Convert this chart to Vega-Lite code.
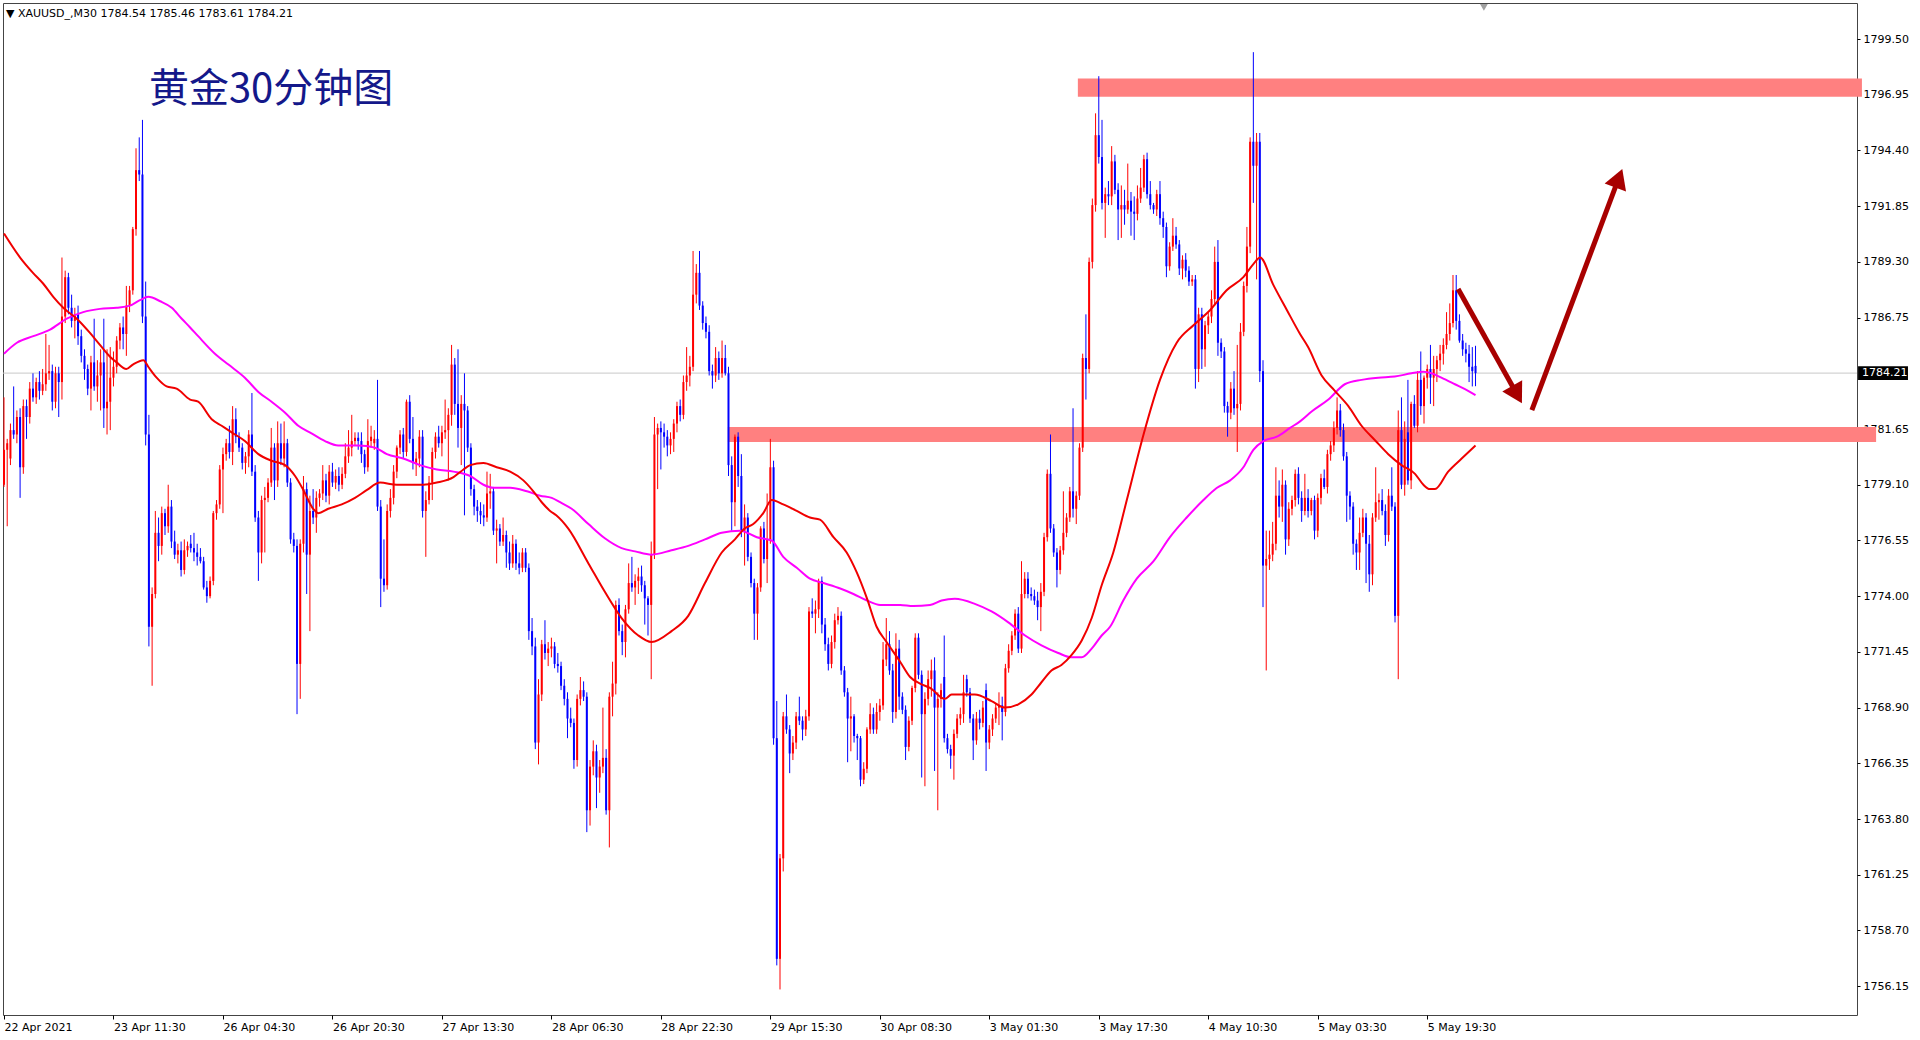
{
"$schema":"https://vega.github.io/schema/vega-lite/v6.json",
"width":1854,"height":1012,
"autosize":{"type":"none"},
"padding":{"left":3,"top":3,"right":63,"bottom":25},
"background":"#ffffff",
"config":{"view":{"stroke":"#444444","strokeWidth":1},"font":"DejaVu Sans",
 "axisX":{"labelAlign":"left","labelPadding":2,"tickSize":4,"tickColor":"#000000","domain":false,"grid":false,"labelFont":"DejaVu Sans","labelFontSize":11,"labelColor":"#000000","labelOverlap":false,"labelBound":false,"labelFlush":false},
 "axisY":{"tickSize":3,"tickColor":"#000000","domain":false,"grid":false,"labelFont":"DejaVu Sans","labelFontSize":11,"labelColor":"#000000","labelPadding":3,"labelOverlap":false,"labelBound":false,"labelFlush":false}},
"datasets":{
"bands":[{"a":333.5,"b":577,"t":1797.7,"u":1796.86},{"a":224.8,"b":581.4,"t":1781.74,"u":1781.06}],
"arrows":[{"x1":451.6,"y1":1788.06,"x2":469.0,"y2":1783.47},{"x1":474.5,"y1":1782.52,"x2":500.8,"y2":1792.87}],
"k":[
{"i":0,"o":1779.1,"h":1783.1,"l":1779.0,"c":1780.7},
{"i":1,"o":1780.7,"h":1781.2,"l":1777.2,"c":1781.0},
{"i":2,"o":1780.3,"h":1781.9,"l":1780.0,"c":1781.6},
{"i":3,"o":1781.6,"h":1783.6,"l":1781.2,"c":1781.4},
{"i":4,"o":1781.4,"h":1782.5,"l":1781.0,"c":1782.2},
{"i":5,"o":1782.2,"h":1782.6,"l":1778.5,"c":1779.9},
{"i":6,"o":1779.9,"h":1783.0,"l":1779.6,"c":1782.7},
{"i":7,"o":1782.7,"h":1783.0,"l":1781.2,"c":1782.2},
{"i":8,"o":1782.2,"h":1783.8,"l":1781.9,"c":1783.5},
{"i":9,"o":1783.5,"h":1784.2,"l":1782.9,"c":1783.1},
{"i":10,"o":1783.1,"h":1784.0,"l":1782.8,"c":1783.8},
{"i":11,"o":1783.8,"h":1784.3,"l":1783.0,"c":1783.4},
{"i":12,"o":1783.4,"h":1784.4,"l":1783.2,"c":1783.7},
{"i":13,"o":1783.7,"h":1786.0,"l":1783.4,"c":1784.2},
{"i":14,"o":1784.2,"h":1785.5,"l":1783.9,"c":1784.3},
{"i":15,"o":1784.3,"h":1784.6,"l":1782.5,"c":1782.9},
{"i":16,"o":1782.9,"h":1784.5,"l":1782.6,"c":1784.2},
{"i":17,"o":1784.2,"h":1784.5,"l":1782.2,"c":1783.8},
{"i":18,"o":1783.8,"h":1789.5,"l":1783.0,"c":1786.8},
{"i":19,"o":1786.8,"h":1788.9,"l":1786.5,"c":1788.6},
{"i":20,"o":1788.6,"h":1788.8,"l":1786.9,"c":1787.2},
{"i":21,"o":1787.2,"h":1787.8,"l":1786.3,"c":1786.6},
{"i":22,"o":1786.6,"h":1787.2,"l":1785.8,"c":1786.9},
{"i":23,"o":1786.9,"h":1787.3,"l":1785.5,"c":1785.9},
{"i":24,"o":1785.9,"h":1786.2,"l":1784.7,"c":1785.0},
{"i":25,"o":1785.0,"h":1785.3,"l":1783.9,"c":1784.4},
{"i":26,"o":1784.4,"h":1784.6,"l":1783.2,"c":1783.5},
{"i":27,"o":1783.5,"h":1785.0,"l":1782.5,"c":1784.7},
{"i":28,"o":1784.7,"h":1786.7,"l":1783.4,"c":1783.6},
{"i":29,"o":1783.6,"h":1784.8,"l":1782.9,"c":1784.1},
{"i":30,"o":1784.1,"h":1785.3,"l":1782.5,"c":1784.7},
{"i":31,"o":1784.7,"h":1786.7,"l":1781.7,"c":1782.6},
{"i":32,"o":1782.6,"h":1785.3,"l":1781.4,"c":1782.9},
{"i":33,"o":1782.9,"h":1785.4,"l":1781.6,"c":1784.0},
{"i":34,"o":1784.0,"h":1785.2,"l":1783.6,"c":1784.5},
{"i":35,"o":1784.5,"h":1785.9,"l":1784.2,"c":1785.7},
{"i":36,"o":1785.7,"h":1786.5,"l":1785.3,"c":1786.3},
{"i":37,"o":1786.3,"h":1786.8,"l":1785.3,"c":1786.0},
{"i":38,"o":1786.0,"h":1788.2,"l":1785.0,"c":1787.3},
{"i":39,"o":1787.3,"h":1788.2,"l":1787.0,"c":1788.0},
{"i":40,"o":1788.0,"h":1790.9,"l":1787.8,"c":1790.8},
{"i":41,"o":1790.8,"h":1794.5,"l":1790.5,"c":1793.5},
{"i":42,"o":1793.5,"h":1795.0,"l":1793.0,"c":1793.3},
{"i":43,"o":1793.3,"h":1795.8,"l":1786.5,"c":1786.8},
{"i":44,"o":1786.8,"h":1788.4,"l":1780.9,"c":1781.4},
{"i":45,"o":1781.4,"h":1782.3,"l":1771.7,"c":1772.6},
{"i":46,"o":1772.6,"h":1774.4,"l":1769.9,"c":1774.1},
{"i":47,"o":1774.1,"h":1777.9,"l":1773.9,"c":1776.9},
{"i":48,"o":1776.9,"h":1777.6,"l":1775.6,"c":1776.3},
{"i":49,"o":1776.3,"h":1778.1,"l":1775.9,"c":1777.8},
{"i":50,"o":1777.8,"h":1778.0,"l":1776.8,"c":1777.2},
{"i":51,"o":1777.2,"h":1779.1,"l":1776.9,"c":1778.1},
{"i":52,"o":1778.1,"h":1778.4,"l":1776.2,"c":1776.5},
{"i":53,"o":1776.5,"h":1777.0,"l":1775.7,"c":1775.9},
{"i":54,"o":1775.9,"h":1776.4,"l":1775.5,"c":1776.1},
{"i":55,"o":1776.1,"h":1776.5,"l":1774.9,"c":1775.2},
{"i":56,"o":1775.2,"h":1776.6,"l":1775.0,"c":1776.1},
{"i":57,"o":1776.1,"h":1776.5,"l":1775.8,"c":1776.3},
{"i":58,"o":1776.4,"h":1776.8,"l":1776.0,"c":1776.2},
{"i":59,"o":1776.2,"h":1776.9,"l":1775.6,"c":1776.0},
{"i":60,"o":1776.0,"h":1776.4,"l":1775.4,"c":1775.8},
{"i":61,"o":1775.8,"h":1776.2,"l":1775.5,"c":1775.6},
{"i":62,"o":1775.6,"h":1775.8,"l":1774.3,"c":1774.4},
{"i":63,"o":1774.4,"h":1774.7,"l":1773.7,"c":1774.0},
{"i":64,"o":1774.0,"h":1774.9,"l":1773.9,"c":1774.7},
{"i":65,"o":1774.7,"h":1777.9,"l":1774.5,"c":1777.8},
{"i":66,"o":1777.8,"h":1778.4,"l":1777.5,"c":1778.2},
{"i":67,"o":1778.2,"h":1780.0,"l":1778.0,"c":1779.8},
{"i":68,"o":1779.8,"h":1780.8,"l":1777.8,"c":1780.5},
{"i":69,"o":1780.5,"h":1781.2,"l":1780.2,"c":1781.0},
{"i":70,"o":1781.0,"h":1781.8,"l":1780.3,"c":1780.6},
{"i":71,"o":1780.6,"h":1782.7,"l":1780.0,"c":1782.1},
{"i":72,"o":1782.1,"h":1782.6,"l":1781.0,"c":1781.3},
{"i":73,"o":1781.3,"h":1781.5,"l":1780.6,"c":1780.8},
{"i":74,"o":1780.8,"h":1781.0,"l":1779.8,"c":1780.1},
{"i":75,"o":1780.1,"h":1780.6,"l":1779.6,"c":1780.4},
{"i":76,"o":1780.4,"h":1781.6,"l":1779.9,"c":1781.4},
{"i":77,"o":1781.4,"h":1783.3,"l":1779.5,"c":1779.7},
{"i":78,"o":1779.7,"h":1780.0,"l":1777.4,"c":1777.6},
{"i":79,"o":1777.6,"h":1777.9,"l":1774.7,"c":1776.0},
{"i":80,"o":1776.0,"h":1778.6,"l":1775.5,"c":1778.4},
{"i":81,"o":1778.4,"h":1779.0,"l":1776.0,"c":1778.5},
{"i":82,"o":1778.5,"h":1779.4,"l":1778.3,"c":1779.2},
{"i":83,"o":1779.2,"h":1781.7,"l":1779.0,"c":1780.8},
{"i":84,"o":1780.8,"h":1781.0,"l":1778.4,"c":1779.3},
{"i":85,"o":1779.3,"h":1782.0,"l":1779.0,"c":1781.0},
{"i":86,"o":1781.0,"h":1781.9,"l":1780.0,"c":1780.3},
{"i":87,"o":1780.3,"h":1782.0,"l":1779.9,"c":1781.0},
{"i":88,"o":1781.0,"h":1781.2,"l":1779.0,"c":1779.2},
{"i":89,"o":1779.2,"h":1779.4,"l":1776.4,"c":1776.6},
{"i":90,"o":1776.6,"h":1776.9,"l":1776.0,"c":1776.3},
{"i":91,"o":1776.3,"h":1776.6,"l":1768.6,"c":1770.9},
{"i":92,"o":1770.9,"h":1776.6,"l":1769.3,"c":1776.4},
{"i":93,"o":1776.4,"h":1779.5,"l":1776.0,"c":1778.9},
{"i":94,"o":1778.9,"h":1779.2,"l":1774.1,"c":1775.9},
{"i":95,"o":1775.9,"h":1778.6,"l":1772.4,"c":1777.9},
{"i":96,"o":1777.9,"h":1778.9,"l":1777.3,"c":1777.6},
{"i":97,"o":1777.6,"h":1778.8,"l":1776.9,"c":1778.5},
{"i":98,"o":1778.5,"h":1778.9,"l":1778.1,"c":1778.7},
{"i":99,"o":1778.7,"h":1780.0,"l":1778.4,"c":1779.3},
{"i":100,"o":1779.3,"h":1779.6,"l":1778.3,"c":1778.6},
{"i":101,"o":1778.6,"h":1780.0,"l":1778.2,"c":1779.7},
{"i":102,"o":1779.7,"h":1780.1,"l":1779.0,"c":1779.2},
{"i":103,"o":1779.2,"h":1779.8,"l":1778.9,"c":1779.5},
{"i":104,"o":1779.5,"h":1779.9,"l":1778.8,"c":1779.1},
{"i":105,"o":1779.1,"h":1779.9,"l":1778.9,"c":1779.6},
{"i":106,"o":1779.6,"h":1781.0,"l":1779.4,"c":1780.4},
{"i":107,"o":1780.4,"h":1781.6,"l":1780.1,"c":1780.8},
{"i":108,"o":1780.8,"h":1782.3,"l":1780.4,"c":1781.1},
{"i":109,"o":1781.1,"h":1781.5,"l":1780.9,"c":1781.25},
{"i":110,"o":1781.25,"h":1781.5,"l":1780.7,"c":1781.1},
{"i":111,"o":1781.1,"h":1781.5,"l":1780.1,"c":1780.5},
{"i":112,"o":1780.5,"h":1780.7,"l":1779.6,"c":1779.9},
{"i":113,"o":1779.9,"h":1782.1,"l":1779.7,"c":1781.1},
{"i":114,"o":1781.1,"h":1781.8,"l":1780.8,"c":1781.3},
{"i":115,"o":1781.0,"h":1781.6,"l":1780.7,"c":1781.2},
{"i":116,"o":1781.2,"h":1783.9,"l":1777.9,"c":1778.1},
{"i":117,"o":1778.1,"h":1778.4,"l":1773.5,"c":1774.8},
{"i":118,"o":1774.8,"h":1776.6,"l":1774.2,"c":1774.5},
{"i":119,"o":1774.5,"h":1778.2,"l":1774.3,"c":1777.9},
{"i":120,"o":1777.9,"h":1778.9,"l":1777.6,"c":1778.5},
{"i":121,"o":1778.5,"h":1780.0,"l":1778.2,"c":1779.7},
{"i":122,"o":1779.7,"h":1780.9,"l":1779.4,"c":1780.8},
{"i":123,"o":1780.8,"h":1781.6,"l":1780.5,"c":1781.4},
{"i":124,"o":1781.4,"h":1781.7,"l":1780.3,"c":1780.6},
{"i":125,"o":1780.6,"h":1783.0,"l":1780.4,"c":1782.9},
{"i":126,"o":1782.9,"h":1783.2,"l":1781.0,"c":1781.2},
{"i":127,"o":1781.2,"h":1782.2,"l":1779.8,"c":1780.1},
{"i":128,"o":1780.1,"h":1780.6,"l":1779.5,"c":1780.3},
{"i":129,"o":1780.3,"h":1781.6,"l":1779.9,"c":1781.3},
{"i":130,"o":1781.3,"h":1781.6,"l":1777.6,"c":1777.9},
{"i":131,"o":1777.9,"h":1778.8,"l":1775.8,"c":1778.4},
{"i":132,"o":1778.4,"h":1779.5,"l":1778.2,"c":1779.2},
{"i":133,"o":1779.2,"h":1780.8,"l":1778.4,"c":1780.6},
{"i":134,"o":1780.6,"h":1781.5,"l":1780.3,"c":1781.3},
{"i":135,"o":1781.3,"h":1781.8,"l":1780.8,"c":1781.0},
{"i":136,"o":1781.0,"h":1781.8,"l":1780.4,"c":1781.5},
{"i":137,"o":1781.5,"h":1783.0,"l":1781.2,"c":1781.6},
{"i":138,"o":1781.6,"h":1782.6,"l":1779.3,"c":1782.3},
{"i":139,"o":1782.3,"h":1785.5,"l":1781.8,"c":1784.6},
{"i":140,"o":1784.6,"h":1784.9,"l":1782.3,"c":1782.8},
{"i":141,"o":1782.8,"h":1785.3,"l":1780.8,"c":1781.7},
{"i":142,"o":1781.7,"h":1783.2,"l":1780.0,"c":1782.8},
{"i":143,"o":1782.8,"h":1784.2,"l":1777.7,"c":1782.5},
{"i":144,"o":1782.5,"h":1782.7,"l":1780.6,"c":1780.8},
{"i":145,"o":1780.8,"h":1781.0,"l":1778.6,"c":1778.9},
{"i":146,"o":1778.9,"h":1779.1,"l":1777.7,"c":1778.1},
{"i":147,"o":1778.1,"h":1778.4,"l":1777.4,"c":1777.9},
{"i":148,"o":1777.9,"h":1778.3,"l":1777.3,"c":1777.7},
{"i":149,"o":1777.7,"h":1778.2,"l":1777.2,"c":1777.6},
{"i":150,"o":1777.6,"h":1779.7,"l":1777.4,"c":1778.7},
{"i":151,"o":1778.7,"h":1779.6,"l":1778.0,"c":1778.8},
{"i":152,"o":1778.8,"h":1779.0,"l":1776.8,"c":1777.0},
{"i":153,"o":1777.0,"h":1777.5,"l":1775.5,"c":1777.1},
{"i":154,"o":1777.1,"h":1777.3,"l":1776.3,"c":1776.5},
{"i":155,"o":1776.5,"h":1777.6,"l":1776.3,"c":1776.8},
{"i":156,"o":1776.8,"h":1777.0,"l":1775.3,"c":1776.0},
{"i":157,"o":1776.0,"h":1776.5,"l":1775.2,"c":1775.5},
{"i":158,"o":1775.5,"h":1776.8,"l":1775.3,"c":1776.4},
{"i":159,"o":1776.4,"h":1776.6,"l":1775.2,"c":1775.5},
{"i":160,"o":1775.5,"h":1776.0,"l":1775.0,"c":1775.3},
{"i":161,"o":1775.3,"h":1776.2,"l":1775.1,"c":1776.0},
{"i":162,"o":1776.0,"h":1776.2,"l":1775.1,"c":1775.3},
{"i":163,"o":1775.3,"h":1775.5,"l":1772.0,"c":1772.4},
{"i":164,"o":1772.4,"h":1773.0,"l":1771.3,"c":1771.7},
{"i":165,"o":1771.7,"h":1772.1,"l":1767.0,"c":1767.3},
{"i":166,"o":1767.3,"h":1770.2,"l":1766.3,"c":1769.5},
{"i":167,"o":1769.5,"h":1772.0,"l":1769.2,"c":1771.8},
{"i":168,"o":1771.8,"h":1772.9,"l":1771.1,"c":1771.4},
{"i":169,"o":1771.4,"h":1771.9,"l":1770.8,"c":1771.6},
{"i":170,"o":1771.6,"h":1772.1,"l":1771.2,"c":1771.7},
{"i":171,"o":1771.7,"h":1771.9,"l":1770.7,"c":1770.9},
{"i":172,"o":1770.9,"h":1771.4,"l":1770.5,"c":1770.8},
{"i":173,"o":1770.8,"h":1771.0,"l":1769.7,"c":1769.9},
{"i":174,"o":1769.9,"h":1770.2,"l":1769.0,"c":1769.3},
{"i":175,"o":1769.3,"h":1769.6,"l":1767.5,"c":1768.4},
{"i":176,"o":1768.4,"h":1768.9,"l":1768.0,"c":1768.2},
{"i":177,"o":1768.2,"h":1768.4,"l":1766.1,"c":1766.5},
{"i":178,"o":1766.5,"h":1769.5,"l":1766.2,"c":1769.3},
{"i":179,"o":1769.3,"h":1770.3,"l":1769.0,"c":1769.7},
{"i":180,"o":1769.7,"h":1770.1,"l":1769.2,"c":1769.4},
{"i":181,"o":1769.4,"h":1769.6,"l":1763.2,"c":1764.2},
{"i":182,"o":1764.2,"h":1766.5,"l":1763.5,"c":1766.2},
{"i":183,"o":1766.2,"h":1767.4,"l":1765.8,"c":1766.9},
{"i":184,"o":1766.9,"h":1767.2,"l":1764.3,"c":1765.7},
{"i":185,"o":1765.7,"h":1766.5,"l":1765.0,"c":1766.2},
{"i":186,"o":1766.2,"h":1768.9,"l":1765.9,"c":1766.6},
{"i":187,"o":1766.6,"h":1767.0,"l":1764.0,"c":1764.2},
{"i":188,"o":1764.2,"h":1769.6,"l":1762.5,"c":1769.4},
{"i":189,"o":1769.4,"h":1771.0,"l":1768.5,"c":1770.0},
{"i":190,"o":1770.0,"h":1773.8,"l":1769.5,"c":1773.6},
{"i":191,"o":1773.6,"h":1773.9,"l":1772.2,"c":1772.4},
{"i":192,"o":1772.4,"h":1772.7,"l":1771.3,"c":1771.9},
{"i":193,"o":1771.9,"h":1773.6,"l":1771.2,"c":1773.4},
{"i":194,"o":1773.4,"h":1775.5,"l":1773.2,"c":1774.6},
{"i":195,"o":1774.6,"h":1775.8,"l":1774.2,"c":1774.4},
{"i":196,"o":1774.4,"h":1775.0,"l":1773.6,"c":1774.7},
{"i":197,"o":1774.7,"h":1775.3,"l":1774.1,"c":1774.9},
{"i":198,"o":1774.9,"h":1775.4,"l":1774.2,"c":1774.5},
{"i":199,"o":1774.5,"h":1774.7,"l":1772.7,"c":1773.9},
{"i":200,"o":1773.9,"h":1774.0,"l":1772.2,"c":1773.6},
{"i":201,"o":1773.6,"h":1776.5,"l":1770.2,"c":1775.9},
{"i":202,"o":1775.9,"h":1782.2,"l":1775.7,"c":1781.4},
{"i":203,"o":1781.4,"h":1781.9,"l":1778.9,"c":1781.7},
{"i":204,"o":1781.7,"h":1782.0,"l":1779.8,"c":1781.5},
{"i":205,"o":1781.5,"h":1781.9,"l":1780.8,"c":1781.3},
{"i":206,"o":1781.3,"h":1781.6,"l":1780.4,"c":1780.9},
{"i":207,"o":1780.9,"h":1781.5,"l":1780.5,"c":1781.2},
{"i":208,"o":1781.2,"h":1782.1,"l":1780.6,"c":1781.9},
{"i":209,"o":1781.9,"h":1782.9,"l":1781.5,"c":1782.7},
{"i":210,"o":1782.7,"h":1783.0,"l":1782.0,"c":1782.3},
{"i":211,"o":1782.3,"h":1784.1,"l":1782.1,"c":1783.8},
{"i":212,"o":1783.8,"h":1785.4,"l":1783.4,"c":1784.1},
{"i":213,"o":1784.1,"h":1785.0,"l":1783.6,"c":1784.5},
{"i":214,"o":1784.5,"h":1789.8,"l":1784.3,"c":1787.8},
{"i":215,"o":1787.8,"h":1789.2,"l":1787.4,"c":1788.8},
{"i":216,"o":1788.8,"h":1789.8,"l":1787.1,"c":1787.3},
{"i":217,"o":1787.3,"h":1787.5,"l":1786.2,"c":1786.5},
{"i":218,"o":1786.5,"h":1786.8,"l":1785.8,"c":1786.1},
{"i":219,"o":1786.1,"h":1786.4,"l":1784.1,"c":1784.3},
{"i":220,"o":1784.3,"h":1784.6,"l":1783.5,"c":1784.1},
{"i":221,"o":1784.1,"h":1785.4,"l":1783.8,"c":1784.9},
{"i":222,"o":1784.9,"h":1785.2,"l":1783.9,"c":1784.2},
{"i":223,"o":1784.2,"h":1785.7,"l":1784.0,"c":1784.9},
{"i":224,"o":1784.9,"h":1785.5,"l":1784.1,"c":1784.2},
{"i":225,"o":1784.2,"h":1784.5,"l":1779.5,"c":1780.0},
{"i":226,"o":1780.0,"h":1780.4,"l":1777.0,"c":1778.3},
{"i":227,"o":1778.3,"h":1781.4,"l":1777.2,"c":1781.3},
{"i":228,"o":1781.3,"h":1781.5,"l":1779.0,"c":1779.5},
{"i":229,"o":1779.5,"h":1780.5,"l":1776.7,"c":1777.0},
{"i":230,"o":1777.0,"h":1778.2,"l":1775.4,"c":1777.6},
{"i":231,"o":1777.6,"h":1777.8,"l":1775.6,"c":1775.8},
{"i":232,"o":1775.8,"h":1776.0,"l":1774.4,"c":1774.6},
{"i":233,"o":1774.6,"h":1774.8,"l":1772.0,"c":1773.2},
{"i":234,"o":1773.2,"h":1774.6,"l":1772.0,"c":1774.4},
{"i":235,"o":1774.4,"h":1777.2,"l":1774.2,"c":1777.1},
{"i":236,"o":1777.1,"h":1777.4,"l":1775.5,"c":1775.7},
{"i":237,"o":1775.7,"h":1778.7,"l":1774.6,"c":1776.6},
{"i":238,"o":1776.6,"h":1781.2,"l":1776.4,"c":1779.9},
{"i":239,"o":1779.9,"h":1780.2,"l":1767.2,"c":1767.5},
{"i":240,"o":1767.5,"h":1769.2,"l":1757.1,"c":1757.4},
{"i":241,"o":1757.4,"h":1762.2,"l":1756.0,"c":1762.0},
{"i":242,"o":1762.0,"h":1768.7,"l":1761.4,"c":1768.5},
{"i":243,"o":1768.5,"h":1769.5,"l":1767.7,"c":1767.9},
{"i":244,"o":1767.9,"h":1768.1,"l":1765.9,"c":1766.8},
{"i":245,"o":1766.8,"h":1767.6,"l":1766.5,"c":1767.3},
{"i":246,"o":1767.3,"h":1768.7,"l":1767.0,"c":1768.5},
{"i":247,"o":1768.5,"h":1769.4,"l":1768.1,"c":1768.3},
{"i":248,"o":1768.3,"h":1768.5,"l":1767.4,"c":1767.9},
{"i":249,"o":1767.9,"h":1768.8,"l":1767.6,"c":1768.5},
{"i":250,"o":1768.5,"h":1773.5,"l":1768.3,"c":1773.3},
{"i":251,"o":1773.3,"h":1773.9,"l":1773.0,"c":1773.2},
{"i":252,"o":1773.2,"h":1773.8,"l":1772.3,"c":1773.4},
{"i":253,"o":1773.4,"h":1774.8,"l":1773.0,"c":1774.7},
{"i":254,"o":1774.7,"h":1774.9,"l":1772.3,"c":1772.7},
{"i":255,"o":1772.7,"h":1773.0,"l":1771.5,"c":1771.8},
{"i":256,"o":1771.8,"h":1772.1,"l":1770.6,"c":1770.9},
{"i":257,"o":1770.9,"h":1772.2,"l":1770.7,"c":1771.9},
{"i":258,"o":1771.9,"h":1773.2,"l":1771.6,"c":1772.9},
{"i":259,"o":1772.9,"h":1773.5,"l":1772.7,"c":1773.1},
{"i":260,"o":1773.1,"h":1773.3,"l":1770.4,"c":1770.6},
{"i":261,"o":1770.6,"h":1770.8,"l":1769.4,"c":1769.6},
{"i":262,"o":1769.6,"h":1769.8,"l":1766.4,"c":1768.4},
{"i":263,"o":1768.4,"h":1769.4,"l":1766.9,"c":1768.5},
{"i":264,"o":1768.5,"h":1768.6,"l":1767.3,"c":1767.6},
{"i":265,"o":1767.6,"h":1767.7,"l":1766.5,"c":1767.5},
{"i":266,"o":1767.5,"h":1767.6,"l":1765.3,"c":1765.6},
{"i":267,"o":1765.6,"h":1766.4,"l":1765.4,"c":1766.1},
{"i":268,"o":1766.1,"h":1768.0,"l":1765.9,"c":1767.9},
{"i":269,"o":1767.9,"h":1769.1,"l":1767.7,"c":1768.6},
{"i":270,"o":1768.6,"h":1768.9,"l":1767.7,"c":1767.9},
{"i":271,"o":1767.9,"h":1769.1,"l":1767.7,"c":1768.7},
{"i":272,"o":1768.7,"h":1769.3,"l":1768.3,"c":1769.0},
{"i":273,"o":1769.0,"h":1771.9,"l":1768.8,"c":1771.1},
{"i":274,"o":1771.1,"h":1773.0,"l":1770.8,"c":1771.8},
{"i":275,"o":1771.8,"h":1772.4,"l":1770.4,"c":1770.6},
{"i":276,"o":1770.6,"h":1770.9,"l":1768.2,"c":1768.7},
{"i":277,"o":1768.7,"h":1772.3,"l":1768.4,"c":1771.6},
{"i":278,"o":1771.6,"h":1772.0,"l":1768.8,"c":1769.4},
{"i":279,"o":1769.4,"h":1769.6,"l":1768.6,"c":1768.8},
{"i":280,"o":1768.8,"h":1769.0,"l":1766.5,"c":1767.1},
{"i":281,"o":1767.1,"h":1768.5,"l":1766.9,"c":1768.3},
{"i":282,"o":1768.3,"h":1769.9,"l":1768.1,"c":1769.8},
{"i":283,"o":1769.8,"h":1772.3,"l":1769.6,"c":1772.1},
{"i":284,"o":1772.1,"h":1772.3,"l":1770.2,"c":1770.4},
{"i":285,"o":1770.4,"h":1770.6,"l":1765.7,"c":1768.6},
{"i":286,"o":1768.6,"h":1769.6,"l":1765.3,"c":1769.3},
{"i":287,"o":1769.3,"h":1770.6,"l":1769.0,"c":1770.2},
{"i":288,"o":1770.2,"h":1771.1,"l":1769.4,"c":1770.6},
{"i":289,"o":1770.6,"h":1771.2,"l":1766.0,"c":1768.9},
{"i":290,"o":1768.9,"h":1769.6,"l":1764.2,"c":1769.3},
{"i":291,"o":1769.3,"h":1770.0,"l":1768.9,"c":1769.7},
{"i":292,"o":1770.3,"h":1772.2,"l":1767.3,"c":1767.5},
{"i":293,"o":1767.5,"h":1767.7,"l":1766.8,"c":1767.0},
{"i":294,"o":1767.0,"h":1767.2,"l":1766.1,"c":1766.7},
{"i":295,"o":1766.7,"h":1767.9,"l":1765.6,"c":1767.7},
{"i":296,"o":1767.7,"h":1768.6,"l":1767.5,"c":1768.4},
{"i":297,"o":1768.4,"h":1768.9,"l":1768.1,"c":1768.6},
{"i":298,"o":1768.6,"h":1770.4,"l":1768.2,"c":1769.6},
{"i":299,"o":1770.2,"h":1770.4,"l":1769.4,"c":1769.6},
{"i":300,"o":1769.6,"h":1769.8,"l":1768.2,"c":1768.4},
{"i":301,"o":1768.4,"h":1768.6,"l":1766.5,"c":1767.4},
{"i":302,"o":1767.4,"h":1768.7,"l":1767.2,"c":1768.4},
{"i":303,"o":1768.4,"h":1768.8,"l":1767.9,"c":1768.2},
{"i":304,"o":1768.2,"h":1769.2,"l":1768.0,"c":1768.9},
{"i":305,"o":1769.7,"h":1770.0,"l":1766.0,"c":1767.3},
{"i":306,"o":1767.3,"h":1768.1,"l":1767.0,"c":1767.9},
{"i":307,"o":1767.9,"h":1768.6,"l":1767.6,"c":1768.4},
{"i":308,"o":1768.4,"h":1769.1,"l":1768.2,"c":1768.9},
{"i":309,"o":1768.9,"h":1769.6,"l":1768.1,"c":1769.0},
{"i":310,"o":1769.0,"h":1769.4,"l":1767.4,"c":1768.7},
{"i":311,"o":1768.7,"h":1770.9,"l":1768.5,"c":1770.7},
{"i":312,"o":1770.7,"h":1771.8,"l":1770.5,"c":1771.5},
{"i":313,"o":1771.5,"h":1772.4,"l":1771.3,"c":1772.2},
{"i":314,"o":1772.2,"h":1773.4,"l":1772.0,"c":1773.2},
{"i":315,"o":1773.2,"h":1773.5,"l":1771.4,"c":1771.6},
{"i":316,"o":1771.6,"h":1775.6,"l":1771.4,"c":1774.1},
{"i":317,"o":1774.1,"h":1775.1,"l":1773.9,"c":1774.8},
{"i":318,"o":1774.8,"h":1775.1,"l":1773.9,"c":1774.1},
{"i":319,"o":1774.1,"h":1774.4,"l":1773.8,"c":1774.0},
{"i":320,"o":1774.0,"h":1774.3,"l":1773.6,"c":1773.8},
{"i":321,"o":1773.8,"h":1774.2,"l":1772.9,"c":1773.5},
{"i":322,"o":1773.5,"h":1774.6,"l":1772.4,"c":1774.2},
{"i":323,"o":1774.2,"h":1776.9,"l":1774.0,"c":1776.7},
{"i":324,"o":1776.7,"h":1779.8,"l":1776.5,"c":1779.6},
{"i":325,"o":1779.6,"h":1781.4,"l":1776.9,"c":1777.1},
{"i":326,"o":1777.1,"h":1777.3,"l":1775.8,"c":1776.0},
{"i":327,"o":1776.0,"h":1776.2,"l":1774.4,"c":1775.2},
{"i":328,"o":1775.2,"h":1776.3,"l":1775.0,"c":1776.1},
{"i":329,"o":1776.1,"h":1778.8,"l":1775.9,"c":1776.9},
{"i":330,"o":1776.9,"h":1777.8,"l":1776.7,"c":1777.6},
{"i":331,"o":1777.6,"h":1779.0,"l":1777.4,"c":1778.8},
{"i":332,"o":1778.8,"h":1782.6,"l":1777.6,"c":1778.0},
{"i":333,"o":1778.0,"h":1778.8,"l":1777.3,"c":1778.6},
{"i":334,"o":1778.6,"h":1781.0,"l":1778.4,"c":1780.8},
{"i":335,"o":1780.8,"h":1785.1,"l":1780.6,"c":1784.9},
{"i":336,"o":1784.9,"h":1786.9,"l":1783.0,"c":1784.4},
{"i":337,"o":1784.4,"h":1789.5,"l":1784.2,"c":1789.3},
{"i":338,"o":1789.3,"h":1792.2,"l":1789.0,"c":1791.9},
{"i":339,"o":1791.9,"h":1796.1,"l":1791.6,"c":1795.1},
{"i":340,"o":1795.1,"h":1797.8,"l":1793.8,"c":1794.1},
{"i":341,"o":1794.1,"h":1795.8,"l":1791.7,"c":1792.0},
{"i":342,"o":1792.0,"h":1792.7,"l":1790.4,"c":1792.4},
{"i":343,"o":1792.4,"h":1793.0,"l":1791.9,"c":1792.3},
{"i":344,"o":1792.3,"h":1794.6,"l":1791.9,"c":1793.9},
{"i":345,"o":1793.9,"h":1794.2,"l":1792.4,"c":1792.6},
{"i":346,"o":1792.6,"h":1792.9,"l":1790.3,"c":1791.7},
{"i":347,"o":1791.7,"h":1792.8,"l":1790.4,"c":1791.9},
{"i":348,"o":1791.9,"h":1792.6,"l":1791.0,"c":1791.7},
{"i":349,"o":1791.7,"h":1793.8,"l":1791.5,"c":1792.1},
{"i":350,"o":1792.1,"h":1792.5,"l":1790.5,"c":1791.6},
{"i":351,"o":1791.6,"h":1792.3,"l":1790.3,"c":1791.5},
{"i":352,"o":1791.5,"h":1792.8,"l":1791.2,"c":1792.2},
{"i":353,"o":1792.2,"h":1793.6,"l":1792.0,"c":1792.7},
{"i":354,"o":1792.7,"h":1794.2,"l":1792.5,"c":1794.0},
{"i":355,"o":1794.0,"h":1794.3,"l":1792.2,"c":1792.4},
{"i":356,"o":1792.4,"h":1793.0,"l":1791.7,"c":1791.9},
{"i":357,"o":1791.9,"h":1792.0,"l":1791.5,"c":1791.7},
{"i":358,"o":1791.7,"h":1792.6,"l":1791.4,"c":1792.4},
{"i":359,"o":1792.4,"h":1793.0,"l":1791.0,"c":1791.3},
{"i":360,"o":1791.3,"h":1791.6,"l":1790.4,"c":1790.9},
{"i":361,"o":1790.9,"h":1791.1,"l":1788.6,"c":1789.1},
{"i":362,"o":1789.1,"h":1790.2,"l":1788.9,"c":1790.0},
{"i":363,"o":1790.0,"h":1791.3,"l":1789.8,"c":1790.5},
{"i":364,"o":1790.5,"h":1790.9,"l":1789.9,"c":1790.1},
{"i":365,"o":1790.1,"h":1790.3,"l":1788.7,"c":1789.0},
{"i":366,"o":1789.0,"h":1789.6,"l":1788.5,"c":1789.4},
{"i":367,"o":1789.4,"h":1789.7,"l":1788.6,"c":1788.9},
{"i":368,"o":1788.9,"h":1789.1,"l":1788.2,"c":1788.4},
{"i":369,"o":1788.4,"h":1788.7,"l":1788.2,"c":1788.5},
{"i":370,"o":1788.5,"h":1788.7,"l":1783.5,"c":1784.4},
{"i":371,"o":1784.4,"h":1787.2,"l":1783.8,"c":1786.9},
{"i":372,"o":1786.9,"h":1787.2,"l":1784.4,"c":1785.3},
{"i":373,"o":1785.3,"h":1786.6,"l":1784.5,"c":1786.4},
{"i":374,"o":1786.4,"h":1787.0,"l":1786.0,"c":1786.8},
{"i":375,"o":1786.8,"h":1788.0,"l":1786.5,"c":1787.6},
{"i":376,"o":1787.6,"h":1790.0,"l":1787.3,"c":1789.3},
{"i":377,"o":1789.3,"h":1790.3,"l":1785.0,"c":1785.6},
{"i":378,"o":1785.6,"h":1785.8,"l":1784.9,"c":1785.2},
{"i":379,"o":1785.2,"h":1785.4,"l":1782.4,"c":1782.7},
{"i":380,"o":1782.7,"h":1782.9,"l":1781.3,"c":1782.4},
{"i":381,"o":1782.4,"h":1783.8,"l":1782.1,"c":1783.5},
{"i":382,"o":1783.5,"h":1784.3,"l":1782.3,"c":1782.6},
{"i":383,"o":1782.6,"h":1785.5,"l":1780.6,"c":1782.8},
{"i":384,"o":1782.8,"h":1786.5,"l":1782.5,"c":1786.1},
{"i":385,"o":1786.1,"h":1788.4,"l":1785.9,"c":1788.2},
{"i":386,"o":1788.2,"h":1790.9,"l":1787.9,"c":1790.0},
{"i":387,"o":1790.0,"h":1795.0,"l":1789.7,"c":1794.8},
{"i":388,"o":1794.8,"h":1798.9,"l":1792.0,"c":1793.7},
{"i":389,"o":1793.7,"h":1795.2,"l":1788.5,"c":1794.8},
{"i":390,"o":1794.8,"h":1795.2,"l":1783.8,"c":1784.3},
{"i":391,"o":1784.3,"h":1784.8,"l":1773.5,"c":1775.4},
{"i":392,"o":1775.4,"h":1777.0,"l":1770.6,"c":1775.7},
{"i":393,"o":1775.7,"h":1777.0,"l":1775.2,"c":1775.9},
{"i":394,"o":1775.9,"h":1777.4,"l":1775.6,"c":1776.4},
{"i":395,"o":1776.4,"h":1779.9,"l":1776.1,"c":1778.6},
{"i":396,"o":1778.6,"h":1779.3,"l":1777.6,"c":1778.1},
{"i":397,"o":1778.1,"h":1779.8,"l":1777.4,"c":1779.1},
{"i":398,"o":1779.1,"h":1779.3,"l":1775.9,"c":1776.6},
{"i":399,"o":1776.6,"h":1778.3,"l":1776.3,"c":1778.0},
{"i":400,"o":1778.0,"h":1778.6,"l":1777.7,"c":1778.4},
{"i":401,"o":1778.4,"h":1779.8,"l":1778.1,"c":1779.6},
{"i":402,"o":1779.6,"h":1779.9,"l":1778.2,"c":1778.5},
{"i":403,"o":1778.5,"h":1778.8,"l":1777.4,"c":1777.9},
{"i":404,"o":1777.9,"h":1779.6,"l":1777.7,"c":1778.5},
{"i":405,"o":1778.5,"h":1778.9,"l":1777.6,"c":1777.9},
{"i":406,"o":1777.9,"h":1778.5,"l":1777.7,"c":1778.4},
{"i":407,"o":1778.4,"h":1778.6,"l":1776.6,"c":1777.0},
{"i":408,"o":1777.0,"h":1778.7,"l":1776.7,"c":1778.5},
{"i":409,"o":1778.5,"h":1779.6,"l":1778.2,"c":1779.4},
{"i":410,"o":1779.4,"h":1779.8,"l":1778.9,"c":1779.0},
{"i":411,"o":1779.0,"h":1780.7,"l":1778.7,"c":1780.5},
{"i":412,"o":1780.5,"h":1781.1,"l":1780.2,"c":1780.9},
{"i":413,"o":1780.9,"h":1782.0,"l":1780.6,"c":1781.7},
{"i":414,"o":1781.7,"h":1783.1,"l":1781.4,"c":1782.5},
{"i":415,"o":1782.5,"h":1782.8,"l":1781.3,"c":1781.6},
{"i":416,"o":1781.6,"h":1781.9,"l":1780.2,"c":1780.4},
{"i":417,"o":1780.4,"h":1780.6,"l":1777.4,"c":1778.6},
{"i":418,"o":1778.6,"h":1778.8,"l":1777.5,"c":1778.1},
{"i":419,"o":1778.1,"h":1778.3,"l":1775.9,"c":1776.4},
{"i":420,"o":1776.4,"h":1776.6,"l":1775.2,"c":1776.0},
{"i":421,"o":1776.0,"h":1777.6,"l":1775.2,"c":1776.9},
{"i":422,"o":1776.9,"h":1778.0,"l":1776.7,"c":1777.6},
{"i":423,"o":1777.6,"h":1777.8,"l":1774.6,"c":1776.4},
{"i":424,"o":1776.4,"h":1776.8,"l":1774.2,"c":1775.0},
{"i":425,"o":1775.0,"h":1777.8,"l":1774.5,"c":1777.6},
{"i":426,"o":1777.6,"h":1779.9,"l":1777.4,"c":1778.3},
{"i":427,"o":1778.3,"h":1778.7,"l":1777.5,"c":1778.4},
{"i":428,"o":1778.4,"h":1778.9,"l":1777.7,"c":1777.9},
{"i":429,"o":1777.9,"h":1778.2,"l":1776.3,"c":1776.8},
{"i":430,"o":1776.8,"h":1778.9,"l":1776.5,"c":1778.6},
{"i":431,"o":1778.6,"h":1779.9,"l":1777.9,"c":1778.1},
{"i":432,"o":1778.1,"h":1778.3,"l":1772.8,"c":1773.1},
{"i":433,"o":1773.1,"h":1782.5,"l":1770.2,"c":1781.6},
{"i":434,"o":1781.6,"h":1783.1,"l":1778.9,"c":1779.1},
{"i":435,"o":1779.1,"h":1782.0,"l":1778.6,"c":1781.2},
{"i":436,"o":1781.5,"h":1783.9,"l":1779.1,"c":1779.3},
{"i":437,"o":1779.3,"h":1782.9,"l":1778.9,"c":1782.8},
{"i":438,"o":1782.8,"h":1783.2,"l":1781.7,"c":1781.8},
{"i":439,"o":1781.8,"h":1784.3,"l":1781.5,"c":1783.9},
{"i":440,"o":1783.9,"h":1785.2,"l":1782.3,"c":1782.7},
{"i":441,"o":1782.7,"h":1784.1,"l":1781.9,"c":1784.0},
{"i":442,"o":1784.0,"h":1784.6,"l":1783.5,"c":1784.4},
{"i":443,"o":1784.4,"h":1785.5,"l":1782.8,"c":1784.0},
{"i":444,"o":1784.0,"h":1785.0,"l":1782.7,"c":1784.4},
{"i":445,"o":1784.4,"h":1785.0,"l":1783.8,"c":1784.8},
{"i":446,"o":1784.8,"h":1785.5,"l":1784.3,"c":1785.1},
{"i":447,"o":1785.1,"h":1785.8,"l":1784.6,"c":1785.5},
{"i":448,"o":1785.5,"h":1787.0,"l":1785.3,"c":1786.0},
{"i":449,"o":1786.0,"h":1787.4,"l":1785.7,"c":1786.5},
{"i":450,"o":1786.5,"h":1788.7,"l":1786.3,"c":1788.0},
{"i":451,"o":1788.0,"h":1788.7,"l":1786.2,"c":1786.6},
{"i":452,"o":1786.6,"h":1786.9,"l":1785.6,"c":1785.7},
{"i":453,"o":1785.7,"h":1786.0,"l":1785.0,"c":1785.3},
{"i":454,"o":1785.3,"h":1785.6,"l":1784.7,"c":1785.1},
{"i":455,"o":1785.1,"h":1785.5,"l":1783.8,"c":1784.5},
{"i":456,"o":1784.5,"h":1785.4,"l":1783.6,"c":1784.3},
{"i":457,"o":1784.54,"h":1785.46,"l":1783.61,"c":1784.21}
],
"r":[
{"i":0,"v":1790.6},{"i":5,"v":1789.5},{"i":9,"v":1788.8},{"i":12.2,"v":1788.3},{"i":15.3,"v":1787.7},{"i":18.4,"v":1787.2},{"i":22.6,"v":1786.7},{"i":26.7,"v":1786.05},{"i":29.8,"v":1785.5},{"i":33,"v":1784.95},{"i":35,"v":1784.7},{"i":38,"v":1784.4},{"i":40,"v":1784.6},{"i":43.3,"v":1784.8},{"i":44.8,"v":1784.5},{"i":47.4,"v":1784.0},{"i":50.5,"v":1783.6},{"i":53.6,"v":1783.5},{"i":57.8,"v":1783.0},{"i":60.3,"v":1782.9},{"i":64.5,"v":1782.1},{"i":67.6,"v":1781.8},{"i":70.7,"v":1781.5},{"i":74.8,"v":1781.1},{"i":79,"v":1780.5},{"i":83.1,"v":1780.2},{"i":87.3,"v":1780.0},{"i":90.4,"v":1779.5},{"i":93,"v":1778.85},{"i":96,"v":1778.0},{"i":97.6,"v":1777.8},{"i":100.7,"v":1778.0},{"i":104.9,"v":1778.2},{"i":109,"v":1778.5},{"i":112.6,"v":1778.85},{"i":116.8,"v":1779.2},{"i":122,"v":1779.1},{"i":130.3,"v":1779.1},{"i":134.4,"v":1779.2},{"i":139.6,"v":1779.45},{"i":142.7,"v":1779.8},{"i":144.8,"v":1780.0},{"i":148.9,"v":1780.1},{"i":153,"v":1779.9},{"i":157.2,"v":1779.7},{"i":161.3,"v":1779.3},{"i":164.4,"v":1778.8},{"i":167,"v":1778.3},{"i":169.6,"v":1777.9},{"i":171.5,"v":1777.7},{"i":175.2,"v":1777.1},{"i":181.5,"v":1775.5},{"i":186.6,"v":1774.2},{"i":191.8,"v":1773.0},{"i":197,"v":1772.2},{"i":201.1,"v":1771.9},{"i":207.3,"v":1772.4},{"i":212.5,"v":1773.1},{"i":217.7,"v":1774.6},{"i":222.9,"v":1776.0},{"i":227,"v":1776.6},{"i":230,"v":1777.1},{"i":232.7,"v":1777.3},{"i":235.8,"v":1777.8},{"i":238.4,"v":1778.4},{"i":242,"v":1778.2},{"i":246.2,"v":1777.9},{"i":250.3,"v":1777.6},{"i":253.4,"v":1777.5},{"i":257.6,"v":1776.7},{"i":261.7,"v":1776.0},{"i":264.8,"v":1775.1},{"i":268,"v":1773.9},{"i":271,"v":1772.6},{"i":274.1,"v":1771.9},{"i":278.3,"v":1771.0},{"i":281.4,"v":1770.3},{"i":284.5,"v":1770.0},{"i":287.6,"v":1769.8},{"i":292.2,"v":1769.3},{"i":294.3,"v":1769.5},{"i":301.5,"v":1769.5},{"i":306.7,"v":1769.2},{"i":310.8,"v":1768.9},{"i":315,"v":1769.05},{"i":319.1,"v":1769.5},{"i":322.2,"v":1770.06},{"i":325.3,"v":1770.6},{"i":328.4,"v":1770.85},{"i":331.5,"v":1771.3},{"i":334.7,"v":1771.97},{"i":337.8,"v":1773.0},{"i":340.9,"v":1774.5},{"i":344.5,"v":1776.0},{"i":348.7,"v":1778.4},{"i":353.9,"v":1781.4},{"i":359,"v":1783.9},{"i":364.2,"v":1785.6},{"i":369.4,"v":1786.4},{"i":374.6,"v":1787.1},{"i":379.7,"v":1788.0},{"i":384.9,"v":1788.6},{"i":388,"v":1789.2},{"i":390.1,"v":1789.5},{"i":394.2,"v":1788.25},{"i":398.4,"v":1787.1},{"i":402.5,"v":1786.0},{"i":405,"v":1785.4},{"i":409.2,"v":1784.1},{"i":413.3,"v":1783.4},{"i":417.5,"v":1782.7},{"i":421.6,"v":1781.8},{"i":425.7,"v":1781.15},{"i":429.9,"v":1780.5},{"i":434,"v":1780.0},{"i":438.2,"v":1779.6},{"i":440.8,"v":1779.1},{"i":442.8,"v":1778.9},{"i":444.4,"v":1778.9},{"i":448.5,"v":1779.7},{"i":452.7,"v":1780.3},{"i":457,"v":1780.9}
],
"m":[
{"i":0,"v":1785.1},{"i":4,"v":1785.6},{"i":9.1,"v":1785.9},{"i":14.3,"v":1786.2},{"i":19.5,"v":1786.7},{"i":24.6,"v":1787.0},{"i":29.8,"v":1787.15},{"i":35,"v":1787.2},{"i":39.1,"v":1787.3},{"i":42.2,"v":1787.55},{"i":44.8,"v":1787.7},{"i":48.5,"v":1787.5},{"i":52.1,"v":1787.2},{"i":55.2,"v":1786.7},{"i":57.8,"v":1786.3},{"i":60.3,"v":1785.9},{"i":65.5,"v":1785.1},{"i":69.7,"v":1784.6},{"i":74.8,"v":1784.0},{"i":79,"v":1783.35},{"i":83.1,"v":1782.9},{"i":87.3,"v":1782.4},{"i":91.4,"v":1781.8},{"i":95.5,"v":1781.45},{"i":99.7,"v":1781.1},{"i":103.8,"v":1780.9},{"i":110,"v":1780.9},{"i":115.2,"v":1780.8},{"i":118.9,"v":1780.5},{"i":124,"v":1780.3},{"i":129.2,"v":1780.0},{"i":134.4,"v":1779.8},{"i":139.6,"v":1779.7},{"i":144.8,"v":1779.5},{"i":148.9,"v":1779.1},{"i":152,"v":1778.96},{"i":157.2,"v":1778.96},{"i":162.4,"v":1778.8},{"i":166.5,"v":1778.6},{"i":170.1,"v":1778.5},{"i":172.7,"v":1778.3},{"i":176.3,"v":1778.0},{"i":181.5,"v":1777.3},{"i":186.6,"v":1776.65},{"i":191.8,"v":1776.2},{"i":196,"v":1776.05},{"i":201.1,"v":1775.9},{"i":207.3,"v":1776.1},{"i":212.5,"v":1776.3},{"i":217.7,"v":1776.6},{"i":222.9,"v":1776.9},{"i":228.6,"v":1777.0},{"i":233.8,"v":1776.7},{"i":238.4,"v":1776.55},{"i":242,"v":1775.8},{"i":246.2,"v":1775.3},{"i":250.3,"v":1774.8},{"i":254.5,"v":1774.6},{"i":259.7,"v":1774.35},{"i":263.8,"v":1774.1},{"i":268,"v":1773.8},{"i":272.1,"v":1773.6},{"i":278.3,"v":1773.6},{"i":282.4,"v":1773.55},{"i":287.6,"v":1773.6},{"i":291.2,"v":1773.8},{"i":295.3,"v":1773.88},{"i":301.5,"v":1773.65},{"i":306.7,"v":1773.3},{"i":311.9,"v":1772.8},{"i":317.1,"v":1772.2},{"i":322.2,"v":1771.75},{"i":327.4,"v":1771.4},{"i":331.5,"v":1771.2},{"i":334.7,"v":1771.2},{"i":337.8,"v":1771.6},{"i":340.9,"v":1772.2},{"i":343.5,"v":1772.6},{"i":347.6,"v":1773.8},{"i":351.8,"v":1774.8},{"i":357,"v":1775.6},{"i":362.1,"v":1776.7},{"i":367.3,"v":1777.6},{"i":372.5,"v":1778.4},{"i":376.6,"v":1778.95},{"i":380.8,"v":1779.3},{"i":384.9,"v":1779.9},{"i":388,"v":1780.7},{"i":391.1,"v":1781.1},{"i":395.3,"v":1781.3},{"i":399.4,"v":1781.7},{"i":402.5,"v":1782.0},{"i":406.1,"v":1782.45},{"i":411.3,"v":1783.0},{"i":416.4,"v":1783.7},{"i":421.6,"v":1783.9},{"i":426.8,"v":1784.0},{"i":431.9,"v":1784.05},{"i":437.1,"v":1784.2},{"i":440.8,"v":1784.27},{"i":443.3,"v":1784.2},{"i":446.4,"v":1784.0},{"i":450.6,"v":1783.7},{"i":454.7,"v":1783.4},{"i":457,"v":1783.2}
]
},
"encoding":{
 "x":{"field":"i","type":"quantitative","scale":{"domain":[-0.31,575.47],"nice":false,"zero":false},
  "axis":{"orient":"bottom","title":null,"values":[0,34,68,102,136,170,204,238,272,306,340,374,408,442],
   "labelExpr":"['22 Apr 2021','23 Apr 11:30','26 Apr 04:30','26 Apr 20:30','27 Apr 13:30','28 Apr 06:30','28 Apr 22:30','29 Apr 15:30','30 Apr 08:30','3 May 01:30','3 May 17:30','4 May 10:30','5 May 03:30','5 May 19:30'][round(datum.value/34)]"}},
 "y":{"field":"v","type":"quantitative","scale":{"domain":[1754.83,1801.15],"nice":false,"zero":false},
  "axis":{"orient":"right","title":null,"format":".2f","values":[1756.15,1758.7,1761.25,1763.8,1766.35,1768.9,1771.45,1774.0,1776.55,1779.1,1781.65,1786.75,1789.3,1791.85,1794.4,1796.95,1799.5]}}
},
"layer":[
{"data":{"name":"bands"},"mark":{"type":"rect","color":"#ff8080"},
 "encoding":{"x":{"field":"a"},"x2":{"field":"b"},"y":{"field":"t"},"y2":{"field":"u"}}},
{"data":{"values":[{"v":1784.21}]},"mark":{"type":"rule","color":"#c8c8c8","strokeWidth":1},
 "encoding":{"x":null}},
{"data":{"name":"k"},"mark":{"type":"rule","strokeWidth":1},
 "encoding":{"y":{"field":"l"},"y2":{"field":"h"},
  "color":{"condition":{"test":"datum.c >= datum.o","value":"#ff0000"},"value":"#0000ff"}}},
{"data":{"name":"k"},"mark":{"type":"rule","strokeWidth":2},
 "encoding":{"y":{"field":"o"},"y2":{"field":"c"},
  "color":{"condition":{"test":"datum.c >= datum.o","value":"#ff0000"},"value":"#0000ff"}}},
{"data":{"name":"m"},"mark":{"type":"line","color":"#ff00ff","strokeWidth":2,"interpolate":"monotone"}},
{"data":{"name":"r"},"mark":{"type":"line","color":"#f00000","strokeWidth":2,"interpolate":"monotone"}},
{"data":{"name":"arrows"},"mark":{"type":"rule","color":"#a80000","strokeWidth":5},
 "encoding":{"x":{"field":"x1"},"y":{"field":"y1"},"x2":{"field":"x2"},"y2":{"field":"y2"}}},
{"data":{"values":[{"i":469.9,"v":1783.23}]},"mark":{"type":"point","shape":"triangle-up","filled":true,"size":520,"angle":150.7,"color":"#a80000","opacity":1}},
{"data":{"values":[{"i":501.5,"v":1793.13}]},"mark":{"type":"point","shape":"triangle-up","filled":true,"size":520,"angle":20.6,"color":"#a80000","opacity":1}},
{"data":{"values":[{"i":0.6,"v":1800.64,"t":"▼  XAUUSD_,M30  1784.54 1785.46 1783.61 1784.21"}]},
 "mark":{"type":"text","align":"left","baseline":"middle","font":"DejaVu Sans","fontSize":11,"color":"#000000"},
 "encoding":{"text":{"field":"t"}}},
{"data":{"values":[{"i":45.0,"v":1797.17,"t":"黄金30分钟图"}]},
 "mark":{"type":"text","align":"left","baseline":"middle","font":"Noto Sans CJK SC","fontSize":40,"color":"#14188a"},
 "encoding":{"text":{"field":"t"}}},
{"data":{"values":[{"a":575.8,"b":591.3,"t":1784.52,"u":1783.9}]},"mark":{"type":"rect","color":"#000000"},
 "encoding":{"x":{"field":"a"},"x2":{"field":"b"},"y":{"field":"t"},"y2":{"field":"u"}}},
{"data":{"values":[{"i":577.0,"v":1784.21,"t":"1784.21"}]},
 "mark":{"type":"text","align":"left","baseline":"middle","font":"DejaVu Sans","fontSize":11,"color":"#ffffff"},
 "encoding":{"text":{"field":"t"}}},
{"data":{"values":[{"i":459.6,"v":1800.95}]},"mark":{"type":"point","shape":"triangle-down","filled":true,"size":60,"color":"#a0a0a0","opacity":1}}
]
}
